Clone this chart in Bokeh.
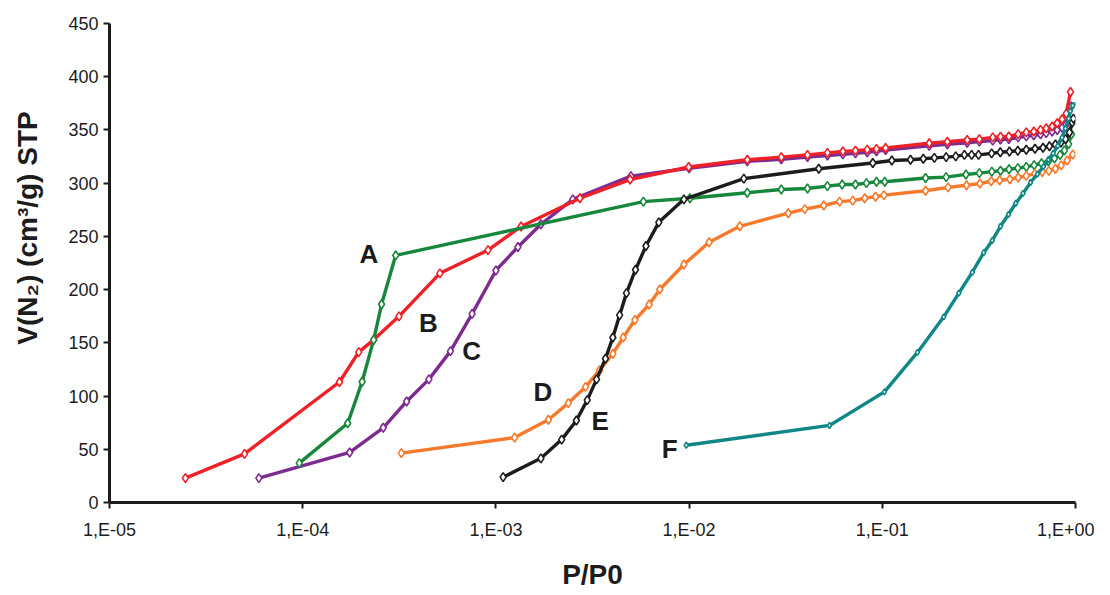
from bokeh.plotting import figure
from bokeh.models import CustomJSTickFormatter, FixedTicker, Range1d
from bokeh.core.properties import value
from bokeh.embed import file_html
from bokeh.resources import INLINE

# ---------------- data ----------------
a_x = [9.6e-5, 1.71e-4, 2.03e-4, 2.33e-4, 2.56e-4, 3.03e-4, 5.8e-3, 1.01e-2, 0.020, 0.030,
       0.041, 0.052, 0.062, 0.0726, 0.0828, 0.0933, 0.103, 0.1675, 0.214, 0.271, 0.318,
       0.369, 0.409, 0.453, 0.503, 0.556, 0.611, 0.667, 0.724, 0.778, 0.832, 0.877, 0.921, 0.953]
a_y = [37, 74.5, 113.5, 152.8, 186.2, 232.2, 282.7, 285.8, 291, 294.1,
       295, 297.2, 298.8, 298.8, 300, 301.3, 301.3, 304.8, 305.7, 308.2, 309.4,
       310.8, 311.7, 313.1, 314.1, 315.3, 316.9, 318.7, 320.6, 323.3, 326.6, 330.8, 336.8, 346]

b_x = [2.47e-5, 5.0e-5, 1.55e-4, 1.95e-4, 2.33e-4, 3.15e-4, 5.13e-4, 9.1e-4, 1.35e-3, 2.72e-3,
       4.95e-3, 9.95e-3, 0.020, 0.030, 0.041, 0.052, 0.0625, 0.0726, 0.0835, 0.0933, 0.104,
       0.175, 0.217, 0.275, 0.318, 0.373, 0.409, 0.452, 0.505, 0.556, 0.608, 0.659, 0.705,
       0.757, 0.804, 0.853, 0.895, 0.942]
b_y = [22.9, 45.7, 113.2, 141.3, 152.8, 174.9, 215.3, 237.1, 259.3, 285.8,
       303.4, 315.2, 322, 324.5, 326.6, 328.5, 329.7, 330.6, 331.5, 332.2, 333.1,
       337.5, 338.9, 340.5, 341.4, 343, 343.6, 343.9, 346.1, 347.7, 348.6, 350.1, 351.6,
       353.2, 356.3, 360, 365.3, 385.7]

c_x = [5.93e-5, 1.75e-4, 2.61e-4, 3.45e-4, 4.5e-4, 5.82e-4, 7.53e-4, 1.0e-3, 1.30e-3, 1.71e-3,
       2.50e-3, 5.0e-3, 0.010, 0.020, 0.030, 0.041, 0.052, 0.0625, 0.0726, 0.0835, 0.0933,
       0.104, 0.175, 0.217, 0.275, 0.318, 0.373, 0.409, 0.452, 0.505, 0.556, 0.608, 0.659,
       0.705, 0.757, 0.804, 0.853, 0.895, 0.95]
c_y = [22.9, 47, 70.2, 94.9, 115.7, 142.2, 177.2, 218, 240, 261.4,
       284.8, 306.6, 314, 320.5, 322.5, 324.5, 326, 327, 328, 329, 330,
       331, 335, 336.5, 338, 339, 340, 341, 341.5, 343, 344, 345, 346,
       347, 348.5, 350, 352, 355, 372]

d_x = [3.24e-4, 1.25e-3, 1.87e-3, 2.37e-3, 2.91e-3, 3.44e-3, 4.03e-3, 4.56e-3, 5.24e-3, 6.21e-3,
       7.05e-3, 9.4e-3, 0.0127, 0.0183, 0.0326, 0.0397, 0.0498, 0.0601, 0.0703, 0.0811, 0.0923,
       0.102, 0.1675, 0.219, 0.273, 0.320, 0.366, 0.405, 0.457, 0.505, 0.556, 0.616, 0.673,
       0.728, 0.787, 0.843, 0.906, 0.968]
d_y = [46.4, 61, 77.7, 93.4, 108.6, 124.3, 139.8, 155, 171.4, 186,
       200.1, 223.6, 244.5, 259.5, 271.8, 275.6, 279, 282.7, 283.6, 285.8, 287.3,
       288.8, 292.9, 296, 298.1, 299.7, 301.8, 302.8, 303.7, 305.3, 306.8, 309, 310.5,
       311.5, 313.6, 316.7, 321.3, 326.9]

e_x = [1.09e-3, 1.71e-3, 2.19e-3, 2.61e-3, 2.97e-3, 3.32e-3, 3.69e-3, 4.03e-3, 4.37e-3, 4.74e-3,
       5.28e-3, 5.98e-3, 6.97e-3, 9.4e-3, 0.0192, 0.0469, 0.0893, 0.112, 0.14, 0.163, 0.186,
       0.214, 0.240, 0.266, 0.290, 0.315, 0.368, 0.408, 0.455, 0.503, 0.556, 0.617, 0.679,
       0.733, 0.787, 0.841, 0.887, 0.931, 0.962, 0.975]
e_y = [23.8, 41.5, 59.1, 77, 96.2, 115.7, 135.2, 155, 176, 196.7,
       218.7, 241, 263.2, 284.8, 304.3, 313.6, 318.9, 321.3, 322, 322.9, 323.8,
       324.5, 325.2, 326.6, 326.6, 326.6, 328, 329.1, 329.8, 330.5, 331.4, 332.3, 333.3,
       334.7, 336.3, 338.2, 341.4, 347.6, 357, 360.6]

f_x = [9.66e-3, 0.0533, 0.1026, 0.152, 0.208, 0.249, 0.292, 0.335, 0.371, 0.409, 0.450,
       0.491, 0.535, 0.585, 0.635, 0.682, 0.724, 0.766, 0.809, 0.851, 0.887, 0.922, 0.94,
       0.968, 1.05]
f_y = [53.8, 72.4, 103.9, 141, 174.4, 196.7, 216.2, 234.7, 246.2, 259.5, 270.6,
       281.1, 290.4, 300.6, 308.5, 315.5, 322, 328, 335, 342.8, 351.4, 360.6, 367.7,
       373, 377]

label_text = ["A", "B", "C", "D", "E", "F"]
label_x = [2.20e-4, 4.47e-4, 7.48e-4, 1.75e-3, 3.47e-3, 7.93e-3]
label_y = [233, 169, 142, 104, 76.5, 50.3]

x_ticks = [1e-5, 1e-4, 1e-3, 1e-2, 1e-1, 1.0]
y_ticks = [0, 50, 100, 150, 200, 250, 300, 350, 400, 450]

# leading no-break spaces lift the rotated title above the frame centre, as in the reference
y_title = "\u00a0" * 9 + "V(N\u2082) (cm\u00b3/g) STP"
x_title = "P/P0"

# ---------------- figure ----------------
p = figure(width=1094, height=592, x_axis_type="log",
           x_range=Range1d(1e-5, 1.0), y_range=Range1d(0, 450),
           output_backend="svg", toolbar_location=None,
           min_border_left=109, min_border_right=19,
           min_border_top=23, min_border_bottom=84)
p.outline_line_color = None
p.xgrid.visible = False
p.ygrid.visible = False

series = [
    (c_x, c_y, "#7d2b90", 7),
    (b_x, b_y, "#f02028", 7),
    (a_x, a_y, "#17873b", 7),
    (d_x, d_y, "#f77a2c", 7),
    (e_x, e_y, "#1c1c1c", 7),
    (f_x, f_y, "#0f8787", 4),
]
for xs, ys, col, ms in series:
    p.line(xs, ys, line_color=col, line_width=3.4)
    p.scatter(xs, ys, marker="diamond", size=ms + 2, fill_color="white",
              line_color=col, line_width=1.6)

p.text(x=label_x, y=label_y, text=label_text, text_font=value("Liberation Sans"),
       text_font_style="bold", text_font_size="26px", text_color="#1c1c1c",
       text_align="center", text_baseline="middle")

fmt = CustomJSTickFormatter(code="""
const e = Math.round(Math.log10(tick));
const s = e < 0 ? "-" : "+";
const a = Math.abs(e);
return "1,E" + s + (a < 10 ? "0" : "") + a;
""")

for ax in (p.xaxis[0], p.yaxis[0]):
    ax.axis_line_width = 3
    ax.axis_line_color = "#1c1c1c"
    ax.major_tick_line_width = 2
    ax.major_tick_line_color = "#1c1c1c"
    ax.major_tick_in = 0
    ax.major_tick_out = 6
    ax.minor_tick_line_color = None
    ax.major_label_text_font = "Liberation Sans"
    ax.major_label_text_font_size = "18px"
    ax.major_label_text_color = "#1c1c1c"
    ax.axis_label_text_font = "Liberation Sans"
    ax.axis_label_text_font_style = "bold"
    ax.axis_label_text_font_size = "28px"
    ax.axis_label_text_color = "#1c1c1c"

p.xaxis[0].ticker = FixedTicker(ticks=x_ticks)
p.xaxis[0].formatter = fmt
p.xaxis[0].axis_label = x_title
p.xaxis[0].major_label_standoff = 11
p.xaxis[0].axis_label_standoff = 16

p.yaxis[0].ticker = FixedTicker(ticks=y_ticks)
p.yaxis[0].major_label_standoff = 5
p.yaxis[0].axis_label = y_title
p.yaxis[0].axis_label_standoff = 22

open("out.html", "w").write(file_html(p, INLINE))
